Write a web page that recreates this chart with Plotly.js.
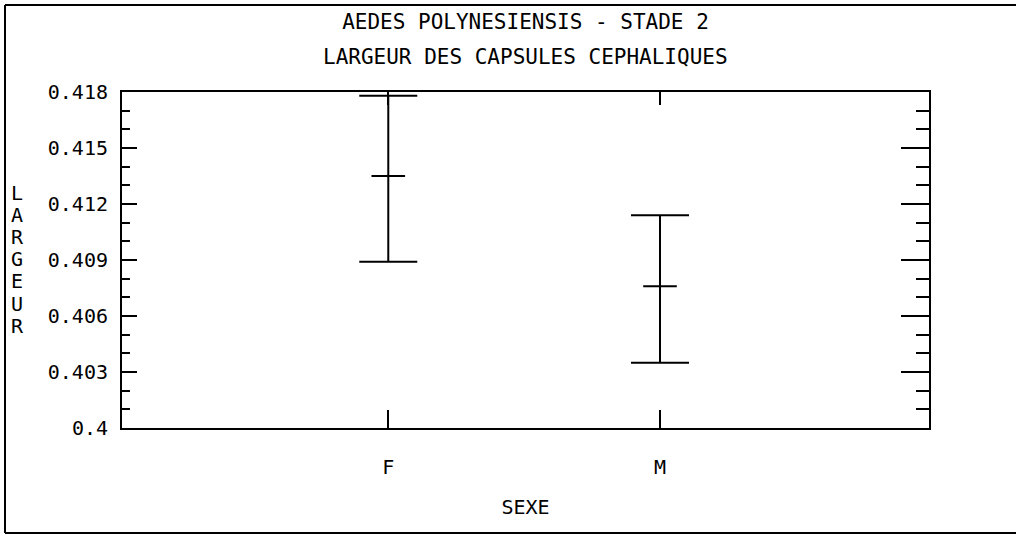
<!DOCTYPE html>
<html>
<head>
<meta charset="utf-8">
<script src="https://cdn.plot.ly/plotly-3.0.1.min.js"></script>
<style>
  html, body { margin: 0; padding: 0; background: #fff; overflow: hidden; }
  #chart { width: 1016px; height: 535px; }
</style>
</head>
<body>
<div id="chart"></div>
<script>
// ---- data ----
const categories = ['F', 'M'];
const means = [0.4135, 0.4076];
const upper = [0.4178, 0.4114];
const lower = [0.4089, 0.4035];
const yTickVals = [0.4, 0.403, 0.406, 0.409, 0.412, 0.415, 0.418];
const yTickText = ['0.4', '0.403', '0.406', '0.409', '0.412', '0.415', '0.418'];
const titleLine1 = 'AEDES POLYNESIENSIS - STADE 2';
const titleLine2 = 'LARGEUR DES CAPSULES CEPHALIQUES';
const xTitle = 'SEXE';
const yTitle = 'LARGEUR';

const errPlus = means.map((m, i) => upper[i] - m);
const errMinus = means.map((m, i) => m - lower[i]);

const FONT = '"DejaVu Sans Mono", "Liberation Mono", monospace';
const yRange = [0.4, 0.418];
const xRange = [-0.98, 1.99];

const traces = [
  {
    type: 'scatter',
    mode: 'markers',
    x: categories,
    y: means,
    marker: { symbol: 'line-ew', size: 24, color: 'black', line: { width: 2, color: 'black' } },
    error_y: {
      type: 'data', symmetric: false,
      array: errPlus, arrayminus: errMinus,
      color: 'black', thickness: 2, width: 29
    },
    hoverinfo: 'x+y',
    showlegend: false,
    cliponaxis: false
  },
  {
    // invisible helper so the mirrored tick axes are drawn
    type: 'scatter', mode: 'markers',
    x: categories, y: means, xaxis: 'x2', yaxis: 'y2',
    marker: { opacity: 0 }, hoverinfo: 'skip', showlegend: false
  }
];

const stacked = yTitle.split('').map(c => '<span style="font-size:20px">' + c + '</span>').join('<br>');

const layout = {
  width: 1016, height: 535,
  margin: { l: 122, r: 87, t: 92, b: 107 },
  paper_bgcolor: 'white', plot_bgcolor: 'white',
  font: { family: FONT, color: 'black', size: 20 },
  showlegend: false,
  title: {
    text: titleLine1,
    font: { family: FONT, size: 21, color: 'black' },
    x: 0.5172, xref: 'container', xanchor: 'center',
    y: 1 - 22 / 535, yref: 'container', yanchor: 'middle'
  },
  xaxis: {
    type: 'category', range: xRange, fixedrange: true,
    showgrid: false, zeroline: false,
    showline: true, linecolor: 'black', linewidth: 2, mirror: true,
    ticks: 'inside', ticklen: 18, tickwidth: 2, tickcolor: 'black',
    ticklabelstandoff: 20,
    tickfont: { family: FONT, size: 20, color: 'black' },
    title: { text: xTitle, font: { family: FONT, size: 20, color: 'black' }, standoff: 22 }
  },
  xaxis2: {
    type: 'category', range: xRange, overlaying: 'x', side: 'top', fixedrange: true,
    showgrid: false, zeroline: false, showline: false,
    ticks: 'inside', ticklen: 13, tickwidth: 2, tickcolor: 'black',
    showticklabels: false
  },
  yaxis: {
    range: yRange, fixedrange: true,
    showgrid: false, zeroline: false,
    showline: true, linecolor: 'black', linewidth: 2, mirror: true,
    tickvals: yTickVals, ticktext: yTickText,
    ticks: 'inside', ticklen: 15, tickwidth: 2, tickcolor: 'black',
    ticklabelstandoff: 8,
    tickfont: { family: FONT, size: 20, color: 'black' },
    minor: { ticks: 'inside', ticklen: 8, tickwidth: 2, tickcolor: 'black', dtick: 0.001, tick0: 0.4, showgrid: false }
  },
  yaxis2: {
    range: yRange, overlaying: 'y', side: 'right', fixedrange: true,
    showgrid: false, zeroline: false, showline: false,
    tickvals: yTickVals,
    ticks: 'inside', ticklen: 28, tickwidth: 2, tickcolor: 'black',
    showticklabels: false,
    minor: { ticks: 'inside', ticklen: 13, tickwidth: 2, tickcolor: 'black', dtick: 0.001, tick0: 0.4, showgrid: false }
  },
  annotations: [
    {
      text: titleLine2, showarrow: false,
      xref: 'paper', yref: 'paper', x: 0.5, y: (428 - 57) / 336,
      xanchor: 'center', yanchor: 'middle',
      font: { family: FONT, size: 21, color: 'black' }
    },
    {
      text: stacked, showarrow: false,
      xref: 'paper', yref: 'paper', x: (17 - 122) / 807, y: (428 - 259) / 336,
      xanchor: 'center', yanchor: 'middle', textangle: 0,
      font: { family: FONT, size: 17, color: 'black' }
    }
  ],
  shapes: [
    { type: 'line', xref: 'paper', yref: 'paper', x0: (5 - 122) / 807, x1: (1016 - 122) / 807,
      y0: (428 - 5) / 336, y1: (428 - 5) / 336, line: { color: 'black', width: 2 } },
    { type: 'line', xref: 'paper', yref: 'paper', x0: (5 - 122) / 807, x1: (5 - 122) / 807,
      y0: (428 - 5) / 336, y1: (428 - 533) / 336, line: { color: 'black', width: 2 } },
    { type: 'line', xref: 'paper', yref: 'paper', x0: (5 - 122) / 807, x1: (1016 - 122) / 807,
      y0: (428 - 533) / 336, y1: (428 - 533) / 336, line: { color: 'black', width: 2 } }
  ]
};

Plotly.newPlot('chart', traces, layout, { displayModeBar: false, responsive: false });
</script>
</body>
</html>
